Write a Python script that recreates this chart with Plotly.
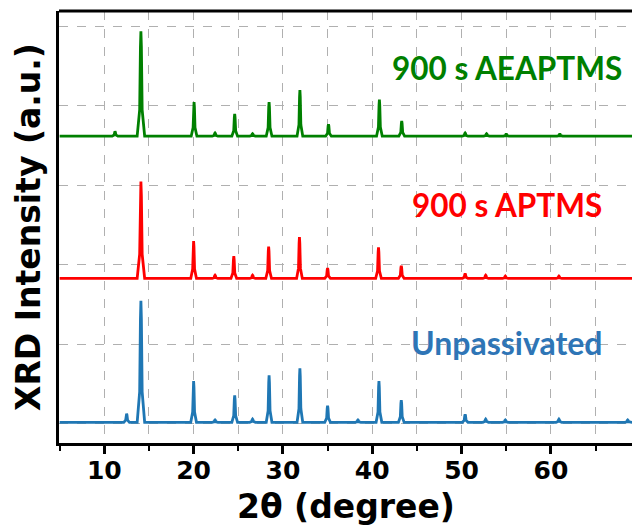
import plotly.graph_objects as go

# ---- data (2θ in degrees, intensity in a.u.) ----
x_start, x_end = 5.0, 69.1

unpass_base = 0.02
unpass_pos = [12.5, 14.1, 20.0, 22.4, 24.6, 26.6, 28.45, 31.9, 35.0, 38.4, 40.75, 43.25, 50.4, 52.7, 54.9, 60.9, 68.6]
unpass_hgt = [0.11, 1.53, 0.52, 0.03, 0.34, 0.04, 0.59, 0.68, 0.21, 0.03, 0.52, 0.28, 0.10, 0.04, 0.03, 0.04, 0.03]

aptms_base = 1.83
aptms_pos = [14.1, 20.0, 22.4, 24.5, 26.6, 28.4, 31.85, 35.0, 40.7, 43.25, 50.4, 52.7, 54.9, 60.9]
aptms_hgt = [1.22, 0.47, 0.04, 0.28, 0.04, 0.40, 0.52, 0.13, 0.39, 0.16, 0.06, 0.04, 0.03, 0.03]

aeaptms_base = 3.62
aeaptms_pos = [11.2, 14.1, 20.05, 22.4, 24.6, 26.6, 28.45, 31.9, 35.1, 40.8, 43.3, 50.4, 52.8, 55.0, 61.0]
aeaptms_hgt = [0.06, 1.32, 0.43, 0.04, 0.28, 0.03, 0.43, 0.58, 0.15, 0.46, 0.19, 0.04, 0.03, 0.025, 0.025]

labels = ["Unpassivated", "900 s APTMS", "900 s AEAPTMS"]
x_ticks = [10, 20, 30, 40, 50, 60]


def profile(base, pos, hgt):
    xs, ys = [x_start], [base]
    for c, h in zip(pos, hgt):
        w = 0.42 if h > 1 else 0.32
        xs += [c - w, c - w / 3, c - w / 8, c, c + w / 8, c + w / 3, c + w]
        ys += [base, base + 0.25 * h, base + 0.85 * h, base + h, base + 0.85 * h, base + 0.25 * h, base]
    xs.append(x_end)
    ys.append(base)
    return xs, ys


series = [
    (unpass_base, unpass_pos, unpass_hgt, "#1f77b4"),
    (aptms_base, aptms_pos, aptms_hgt, "#ff0000"),
    (aeaptms_base, aeaptms_pos, aeaptms_hgt, "#008000"),
]

fig = go.Figure()
for (b, p, h, col), name in zip(series, labels):
    xs, ys = profile(b, p, h)
    fig.add_trace(go.Scatter(x=xs, y=ys, mode="lines", name=name,
                             line=dict(color=col, width=2.8), showlegend=False))

label_cols = ["#2e75b6", "#ff0000", "#007f00"]
label_y = [1.025, 2.75, 4.48]
label_size = [32, 31.5, 31.5]
for name, col, yy, sz in zip(labels, label_cols, label_y, label_size):
    fig.add_annotation(x=55.1, y=yy, xref="x", yref="y", text=name, showarrow=False,
                       xanchor="center", yanchor="middle",
                       font=dict(family="Lato", size=sz, color=col, weight="bold"))

# axis titles
fig.add_annotation(x=0, y=0.5, xref="paper", yref="paper", text="XRD Intensity (a.u.)",
                   textangle=-90, showarrow=False, xanchor="center", yanchor="middle",
                   xshift=-31, font=dict(family="DejaVu Sans", size=33, color="black", weight="bold"))
fig.add_annotation(x=0.5, y=0, xref="paper", yref="paper", text="2θ (degree)",
                   showarrow=False, xanchor="center", yanchor="middle",
                   yshift=-63, font=dict(family="DejaVu Sans", size=33, color="black", weight="bold"))

# top spine
fig.add_shape(type="line", xref="paper", yref="paper", x0=0, x1=1, y0=1, y1=1,
              line=dict(color="black", width=3))

grid = dict(showgrid=True, gridcolor="#b0b0b0", gridwidth=1, griddash="dash")
fig.update_xaxes(range=[4.93, 69.08], tickvals=x_ticks, ticktext=[str(v) for v in x_ticks],
                 ticks="outside", ticklen=8, tickwidth=3, tickcolor="black",
                 ticklabelstandoff=-5,
                 showline=True, linecolor="black", linewidth=3, zeroline=False,
                 tickfont=dict(family="DejaVu Sans", size=25, color="black", weight="bold"),
                 minor=dict(tickvals=[5, 15, 25, 35, 45, 55, 65], ticks="outside", ticklen=5,
                            tickwidth=2, tickcolor="black", showgrid=True,
                            gridcolor="#b0b0b0", gridwidth=1, griddash="dash"),
                 **grid)
fig.update_yaxes(range=[-0.24, 5.195], tickvals=[0, 1, 2, 3, 4, 5], showticklabels=False,
                 ticks="", showline=True, linecolor="black", linewidth=3, zeroline=False, **grid)

fig.update_layout(width=632, height=527, margin=dict(l=59, r=0, t=11, b=84),
                  plot_bgcolor="white", paper_bgcolor="white", hovermode=False)
fig.write_html("out.html", config={"displayModeBar": False, "staticPlot": True},
               post_script="document.body.style.margin='0';document.body.style.overflow='hidden';")
